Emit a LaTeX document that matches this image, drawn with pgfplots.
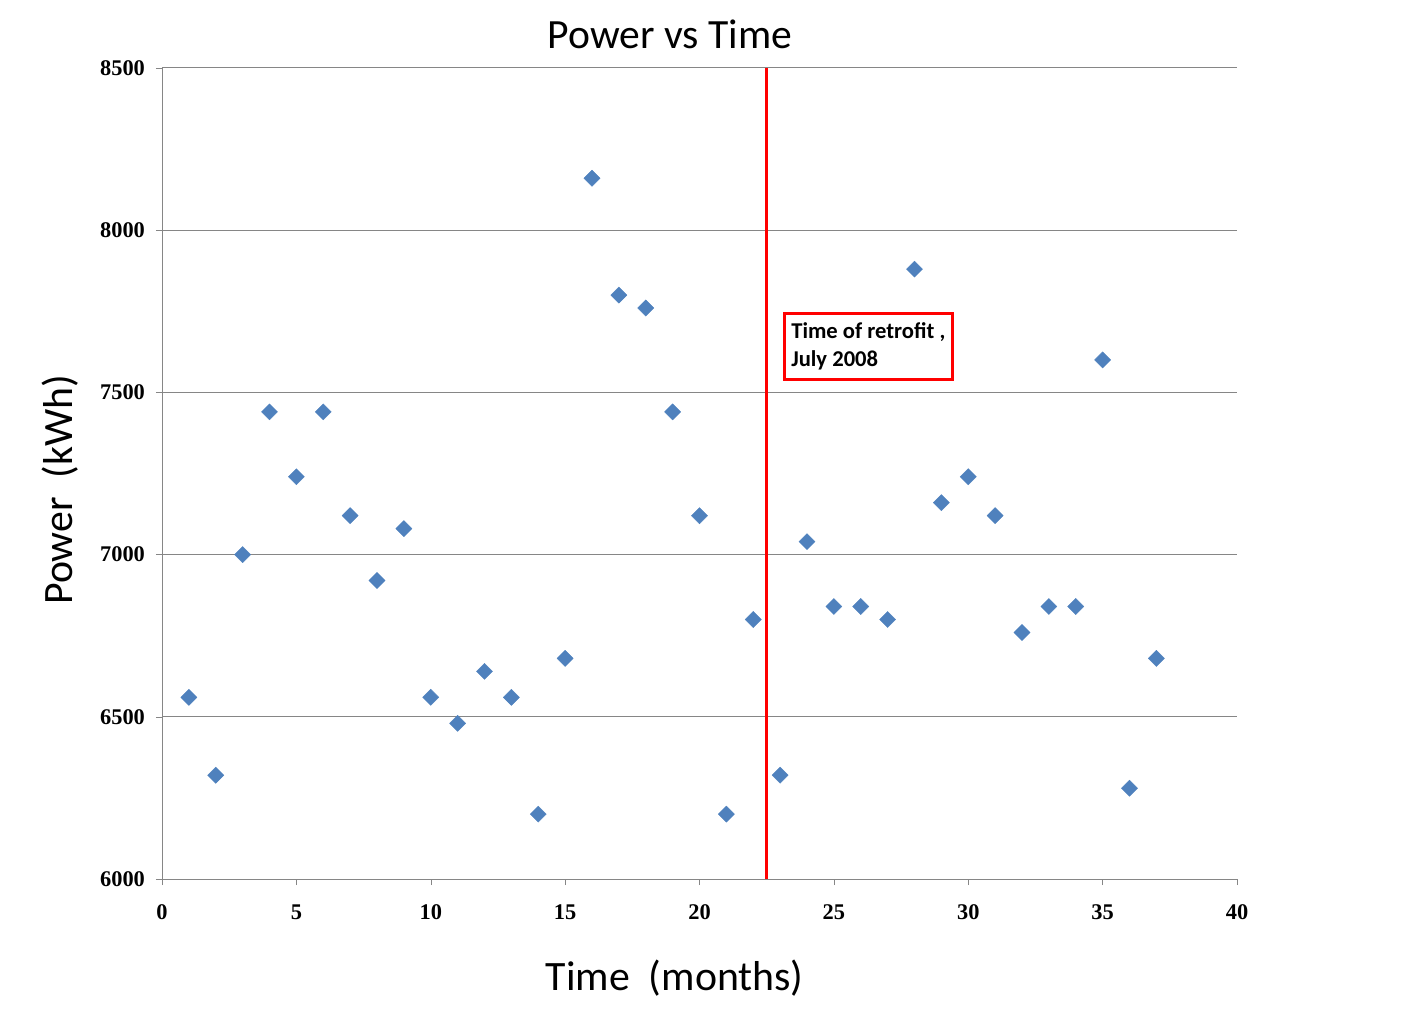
\documentclass[border=0pt]{standalone}
\usepackage{pgfplots}
\pgfplotsset{compat=1.18}
\usepackage{fontspec}
\setmainfont{Carlito}
\newfontfamily\tickfont{Liberation Serif}
\definecolor{ptblue}{HTML}{4F81BD}
\definecolor{gridgray}{HTML}{868686}

\begin{document}
\begin{tikzpicture}
\begin{axis}[
  scale only axis,
  width=537.5pt, height=405.5pt,
  xmin=0, xmax=40, ymin=6000, ymax=8500,
  xtick={0,5,...,40},
  ytick={6000,6500,...,8500},
  axis x line=bottom, axis y line=left,
  axis line style={gridgray, -},
  tick align=outside, major tick length=3pt,
  tick style={gridgray},
  ymajorgrids, grid style={gridgray, line width=0.5pt},
  /pgf/number format/assume math mode=true,
  /pgf/number format/set thousands separator={},
  ticklabel style={font=\tickfont\bfseries\fontsize{11.2}{13}\selectfont},
  xticklabel style={yshift=-6.5pt},
  yticklabel style={xshift=-2pt},
  clip=false,
]
\addplot[only marks, mark=square*, mark size=2.85pt,
  mark options={rotate=45, fill=ptblue, draw=ptblue, line width=0.2pt}] coordinates {
  (1,6560) (2,6320) (3,7000) (4,7440) (5,7240) (6,7440) (7,7120) (8,6920)
  (9,7080) (10,6560) (11,6480) (12,6640) (13,6560) (14,6200) (15,6680)
  (16,8160) (17,7800) (18,7760) (19,7440) (20,7120) (21,6200) (22,6800)
  (23,6320) (24,7040) (25,6840) (26,6840) (27,6800) (28,7880) (29,7160)
  (30,7240) (31,7120) (32,6760) (33,6840) (34,6840) (35,7600) (36,6280)
  (37,6680)
};
% time of retrofit
\addplot[red, line width=1.5pt] coordinates {(22.5,6000) (22.5,8500)};
\node[draw=red, line width=1.5pt, anchor=north west, align=left,
  inner xsep=3.5pt, inner ysep=3pt, minimum width=83.5pt, minimum height=33pt,
  font=\bfseries\fontsize{11.3}{14}\selectfont]
  at (axis cs:23.1,7748) {Time of retrofit ,\\July 2008};
% titles and labels
\node[font=\fontsize{20.8}{24}\selectfont] at ([yshift=17pt]axis description cs:0.4726,1) {Power vs Time};
\node[font=\fontsize{20.9}{24}\selectfont] at ([yshift=-49.5pt]axis description cs:0.477,0) {Time\ \ (months)};
\node[font=\fontsize{20.9}{24}\selectfont, rotate=90] at ([xshift=-51pt]axis description cs:0,0.48) {Power\ \ (kWh)};
\end{axis}
\path (-81pt,-77pt) rectangle (631pt,439.5pt);
\end{tikzpicture}
\end{document}
